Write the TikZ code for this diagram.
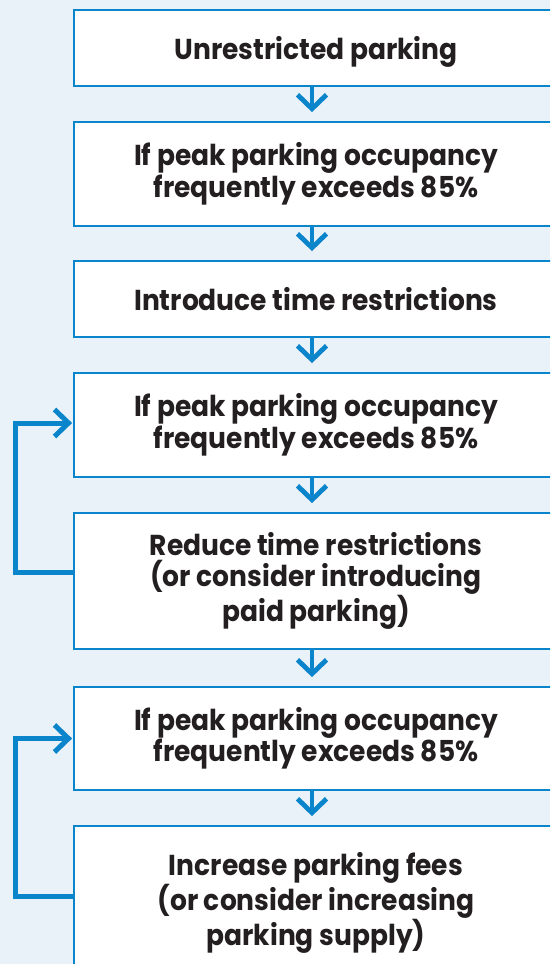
\documentclass[tikz,border=0pt]{standalone}
\usepackage{fontspec}
\setmainfont{Poppins}[FakeStretch=0.92]
\usetikzlibrary{arrows.meta}
\definecolor{bg}{HTML}{E9F1F9}
\definecolor{bl}{HTML}{0A84CA}
\definecolor{tx}{HTML}{231F20}
\begin{document}
\begin{tikzpicture}[x=1pt,y=-1pt,
  boxtext/.style={text=tx, font=\fontsize{28.8}{31.5}\selectfont\bfseries, align=center, inner sep=0pt},
  box/.style={boxtext, draw=bl, line width=1.8pt, fill=white, minimum width=484pt},
  downarrow/.style={draw=bl, line width=4.8pt, -{Straight Barb[length=14pt,width=29pt]}, shorten >=9pt},
  backarrow/.style={draw=bl, line width=5pt, -{Straight Barb[length=14pt,width=27pt]}, shorten >=1pt}]
\useasboundingbox (0,0) rectangle (550,964);
\fill[bg] (0,0) rectangle (550,964);
\clip (0,0) rectangle (550,964);
\coordinate (ax) at (312,0);
\node[box, minimum height=76pt, text depth=0pt]  (b1) at (316,48)  {Unrestricted parking};
\node[box, minimum height=104pt] (b2) at (316,174) {If peak parking occupancy\\frequently exceeds 85\%};
\node[box, minimum height=76pt]  (b3) at (316,299) {Introduce time restrictions};
\node[box, minimum height=104pt] (b4) at (316,425) {If peak parking occupancy\\frequently exceeds 85\%};
\node[box, minimum height=136pt] (b5) at (316,581) {Reduce time restrictions\\(or consider introducing\\paid parking)};
\node[box, minimum height=103pt] (b6) at (316,738.5) {If peak parking occupancy\\frequently exceeds 85\%};
\node[box, minimum height=160pt] (b7) at (316,906) {};
\node[boxtext] (t7) at (316,903) {Increase parking fees\\(or consider increasing\\parking supply)};
\draw[downarrow] (b1.south -| ax) -- (b2.north -| ax);
\draw[downarrow] (b2.south -| ax) -- (b3.north -| ax);
\draw[downarrow] (b3.south -| ax) -- (b4.north -| ax);
\draw[downarrow] (b4.south -| ax) -- (b5.north -| ax);
\draw[downarrow] (b5.south -| ax) -- (b6.north -| ax);
\draw[downarrow] (b6.south -| ax) -- (b7.north -| ax);
\draw[backarrow] ([yshift=9pt]b5.west) -- ++(-57.5,0) |- ([yshift=2pt]b4.west);
\draw[backarrow] ([yshift=10pt]b7.west) -- ++(-57.5,0) |- (b6.west);
\end{tikzpicture}
\end{document}
